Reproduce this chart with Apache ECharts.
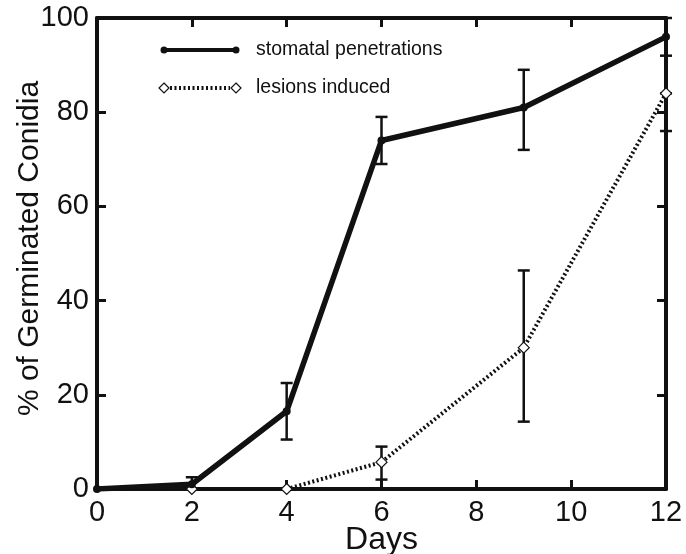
<!DOCTYPE html>
<html>
<head>
<meta charset="utf-8">
<script src="https://cdn.jsdelivr.net/npm/echarts@6/dist/echarts.min.js"></script>
<style>
html, body { margin: 0; padding: 0; background: #fff; }
#plot { width: 686px; height: 554px; }
</style>
</head>
<body>
<div id="plot"></div>
<script>
var days = [0, 2, 4, 6, 9, 12];
var stomatal = [0, 1, 16.5, 74, 81, 96];
var stomatalLow = [0, 0, 10.5, 69, 72, 92];
var stomatalHigh = [0, 2.5, 22.5, 79, 89, 100];

var lesionDays = [2, 4, 6, 9, 12];
var lesions = [0, 0, 5.7, 30, 84];
var lesionLow = [0, 0, 2, 14.3, 76];
var lesionHigh = [0, 0, 9, 46.4, 84];

var seriesNames = ['stomatal penetrations', 'lesions induced'];
var ink = '#111';
var font = 'Liberation Sans, Arial, sans-serif';

function pairs (xs, ys) {
	var out = [];
	for (var i = 0; i < xs.length; i++) out.push([xs[i], ys[i]]);
	return out;
}
function bars (xs, lo, hi) {
	var out = [];
	for (var i = 0; i < xs.length; i++) {
		if (hi[i] - lo[i] > 0) out.push([xs[i], lo[i], hi[i]]);
	}
	return out;
}
function errorBar (params, api) {
	var x = api.value(0);
	var lo = api.coord([x, api.value(1)]);
	var hi = api.coord([x, api.value(2)]);
	var w = 6;
	var style = { stroke: ink, lineWidth: 2.5 };
	return {
		type: 'group',
		children: [
			{ type: 'line', shape: { x1: lo[0], y1: lo[1], x2: hi[0], y2: hi[1] }, style: style },
			{ type: 'line', shape: { x1: lo[0] - w, y1: lo[1], x2: lo[0] + w, y2: lo[1] }, style: style },
			{ type: 'line', shape: { x1: hi[0] - w, y1: hi[1], x2: hi[0] + w, y2: hi[1] }, style: style }
		]
	};
}

var axisLine = { show: true, onZero: false, lineStyle: { color: ink, width: 4 } };
var axisTick = { show: true, inside: true, length: 9, lineStyle: { color: ink, width: 3 } };

var option = {
	backgroundColor: '#fff',
	animation: false,
	grid: { left: 97, right: 20, top: 18, bottom: 65, outerBoundsMode: 'none', containLabel: false },
	xAxis: [
		{
			type: 'value', min: 0, max: 12, interval: 2,
			name: 'Days', nameLocation: 'middle', nameGap: 35, nameMoveOverlap: false,
			nameTextStyle: { color: ink, fontSize: 32, fontFamily: font },
			axisLine: axisLine, axisTick: axisTick,
			axisLabel: { color: ink, fontSize: 29, fontFamily: font, margin: 9 },
			splitLine: { show: false }
		},
		{
			type: 'value', min: 0, max: 12, interval: 2, position: 'top',
			axisLine: axisLine, axisTick: axisTick,
			axisLabel: { show: false }, splitLine: { show: false }
		}
	],
	yAxis: [
		{
			type: 'value', min: 0, max: 100, interval: 20,
			name: '% of Germinated Conidia', nameLocation: 'middle', nameGap: 52, nameMoveOverlap: false,
			nameTextStyle: { color: ink, fontSize: 30, fontFamily: font, padding: [0, 0, 0, 10] },
			axisLine: axisLine, axisTick: axisTick,
			axisLabel: { color: ink, fontSize: 29, fontFamily: font, margin: 8 },
			splitLine: { show: false }
		},
		{
			type: 'value', min: 0, max: 100, interval: 20, position: 'right',
			axisLine: axisLine, axisTick: axisTick,
			axisLabel: { show: false }, splitLine: { show: false }
		}
	],
	series: [
		{
			type: 'custom', name: 'stomatal error', renderItem: errorBar,
			data: bars(days, stomatalLow, stomatalHigh), z: 3
		},
		{
			type: 'custom', name: 'lesion error', renderItem: errorBar,
			data: bars(lesionDays, lesionLow, lesionHigh), z: 3
		},
		{
			type: 'line', name: seriesNames[1], data: pairs(lesionDays, lesions),
			symbol: 'diamond', symbolSize: 11,
			itemStyle: { color: '#fff', borderColor: ink, borderWidth: 1.2 },
			lineStyle: { color: ink, width: 4, type: [2, 2.5] },
			z: 4
		},
		{
			type: 'line', name: seriesNames[0], data: pairs(days, stomatal),
			symbol: 'circle', symbolSize: 8,
			itemStyle: { color: ink },
			lineStyle: { color: ink, width: 5.5 },
			z: 5
		}
	],
	graphic: [
		{ type: 'line', shape: { x1: 164, y1: 50, x2: 236, y2: 50 }, style: { stroke: ink, lineWidth: 4 } },
		{ type: 'circle', shape: { cx: 164, cy: 50, r: 3.5 }, style: { fill: ink } },
		{ type: 'circle', shape: { cx: 236, cy: 50, r: 3.5 }, style: { fill: ink } },
		{ type: 'text', x: 256, y: 50, style: { text: seriesNames[0], fill: ink, font: '19.5px ' + font, verticalAlign: 'middle' } },
		{ type: 'line', shape: { x1: 170, y1: 88, x2: 230, y2: 88 }, style: { stroke: ink, lineWidth: 4, lineDash: [2, 2.5] } },
		{ type: 'polygon', shape: { points: [[164, 83], [169, 88], [164, 93], [159, 88]] }, style: { fill: '#fff', stroke: ink, lineWidth: 1.2 } },
		{ type: 'polygon', shape: { points: [[236, 83], [241, 88], [236, 93], [231, 88]] }, style: { fill: '#fff', stroke: ink, lineWidth: 1.2 } },
		{ type: 'text', x: 256, y: 88, style: { text: seriesNames[1], fill: ink, font: '19.5px ' + font, verticalAlign: 'middle' } }
	]
};

var myChart = echarts.init(document.getElementById('plot'));
myChart.setOption(option);
</script>
</body>
</html>
